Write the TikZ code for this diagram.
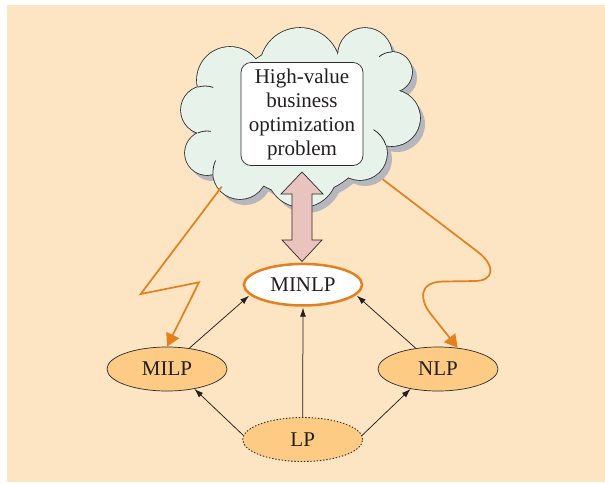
\documentclass[tikz,border=0pt]{standalone}
\usepackage{fontspec}
\setmainfont{Liberation Serif}
\usetikzlibrary{arrows.meta,shapes.geometric}
\definecolor{bgpeach}{HTML}{FDE4C2}
\definecolor{ovalfill}{HTML}{FDCB83}
\definecolor{cloudfill}{HTML}{E7F2EA}
\definecolor{shadowc}{HTML}{B5B7BC}
\definecolor{pinkc}{HTML}{EAC3BE}
\definecolor{orangec}{HTML}{E5801F}
\definecolor{textgray}{HTML}{231F20}
\definecolor{linegray}{HTML}{2B2B2B}
\begin{document}
\begin{tikzpicture}[x=1pt,y=-1pt,
  txt/.style={font=\fontsize{21}{24}\selectfont, text=textgray},
  oval/.style={ellipse, draw=linegray, line width=0.7pt, fill=ovalfill, minimum width=120pt, minimum height=44pt, inner sep=0pt, txt},
  link/.style={-{Latex[length=9pt,width=6pt]}, line width=0.75pt, draw=textgray},
  orangelink/.style={-{Triangle[length=13pt,width=14pt]}, line width=1.7pt, draw=orangec, miter limit=20},
  cloudline/.style={draw=linegray, line width=1.6pt},
  tail/.style={draw=linegray, line width=0.8pt}
]
\useasboundingbox (0,0) rectangle (605,483);
\fill[white] (0,0) rectangle (605,483);
\fill[bgpeach] (7,5) rectangle (605,482);

% cloud
\def\cloudlist{205/110/24, 207/153/22, 240/172/27, 302/172/35, 360/153/27, 392/118/28, 392/72/20, 365/55/27, 300/68/40, 230/80/33, 300/120/75}
\def\innerlist{222/130/20, 372/92/22}
\foreach \cx/\cy/\cr in \cloudlist {\fill[shadowc] (\cx+5,\cy+6) circle (\cr pt);}
\foreach \cx/\cy/\cr in \cloudlist {\draw[cloudline] (\cx,\cy) circle (\cr pt);}
\foreach \cx/\cy/\cr in \cloudlist {\fill[cloudfill] (\cx,\cy) circle (\cr pt);}
\foreach \cx/\cy/\cr in \innerlist {\fill[cloudfill] (\cx,\cy) circle (\cr pt);}
% inner tails of the puffs
\foreach \cx/\cy/\cr/\sa/\ea in {360/153/27/17/60, 207/153/22/114/80, 205/110/24/107/70, 300/68/40/177/200, 392/72/20/90/130, 240/172/27/184.5/155}
  {\draw[tail] (\cx,\cy) ++(\sa:\cr pt) arc[start angle=\sa, end angle=\ea, radius=\cr pt];}

\node[draw=linegray, line width=0.7pt, fill=white, rounded corners=10pt, minimum width=122pt, minimum height=103pt, inner sep=0pt, align=center, txt] (prob) at (302,114) {High-value\\business\\optimization\\problem};

% nodes
\node[oval, draw=orangec, line width=2.5pt, fill=white, minimum width=118pt, minimum height=41.5pt] (minlp) at (303,284.7) {MINLP};
\node[oval] (milp) at (167,369) {MILP};
\node[oval] (nlp) at (438,369) {NLP};
\node[oval, line width=0.9pt, dash pattern=on 1.4pt off 1.8pt] (lp) at (302.7,439.5) {LP};

% double arrow
\draw[fill=pinkc, draw=linegray, line width=0.7pt, line join=miter]
  (302,172) -- (323,194) -- (312,194) -- (312,240) -- (322,240) -- (302,261.5)
  -- (282,240) -- (292,240) -- (292,194) -- (281,194) -- cycle;

% black links
\draw[link, shorten >=1pt] (milp.43) -- (minlp.191);
\draw[link, shorten >=1pt] (nlp.137) -- (minlp.349);
\draw[link, shorten >=1pt] (lp.north) -- (minlp.south);
\draw[link] (lp.176) -- (milp.324);
\draw[link] (lp.4) -- (nlp.216);

% orange links
\coordinate (cl) at (221.7,186.7);
\coordinate (cr) at (382.7,179.3);
\draw[orangelink] (cl) -- (140.7,294) -- (199,282.3) -- (milp.north);
\draw[orangelink] (cr) -- (478,252) .. controls (497,267) and (493,281) .. (475,281)
  -- (443,281.5) .. controls (418,282) and (420,300) .. (430,313) -- (nlp.47);
\end{tikzpicture}
\end{document}
